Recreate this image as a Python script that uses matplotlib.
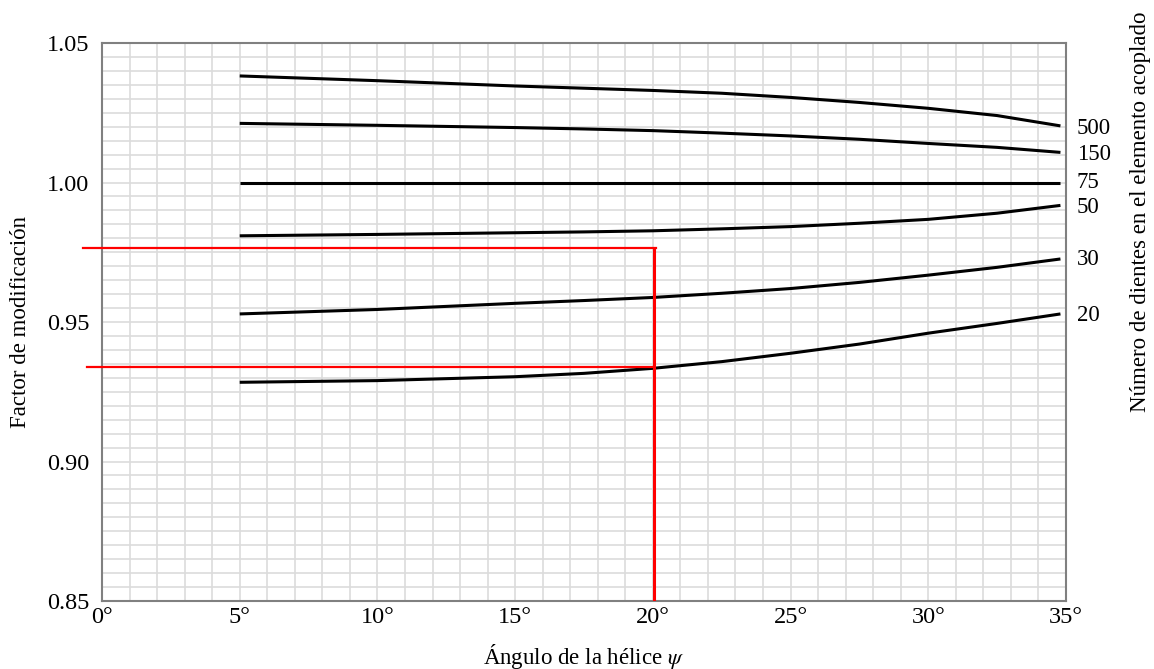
import matplotlib.pyplot as plt
import numpy as np

plt.rcParams['font.family'] = ['Liberation Serif', 'DejaVu Serif']
plt.rcParams['mathtext.fontset'] = 'stix'

# angulo de la helice (grados)
angulos = [5, 10, 15, 17.5, 20, 22.5, 25, 27.5, 30, 32.5, 34.8]

# factor de modificacion por numero de dientes
f500 = [1.0382, 1.0365, 1.0346, 1.0338, 1.0330, 1.0320, 1.0305, 1.0287, 1.0266, 1.0240, 1.0203]
f150 = [1.0212, 1.0205, 1.0197, 1.0192, 1.0186, 1.0177, 1.0167, 1.0155, 1.0140, 1.0126, 1.0108]
f75 = [1.0000, 1.0000, 1.0000, 1.0000, 1.0000, 1.0000, 1.0000, 1.0000, 1.0000, 1.0000, 1.0000]
f50 = [0.9809, 0.9814, 0.9820, 0.9823, 0.9827, 0.9834, 0.9842, 0.9854, 0.9868, 0.9890, 0.9918]
f30 = [0.9529, 0.9545, 0.9567, 0.9577, 0.9588, 0.9603, 0.9620, 0.9642, 0.9668, 0.9696, 0.9726]
f20 = [0.9284, 0.9290, 0.9304, 0.9316, 0.9334, 0.9358, 0.9388, 0.9421, 0.9460, 0.9495, 0.9529]

curvas = [f500, f150, f75, f50, f30, f20]
etiquetas = ['500', '150', '75', '50', '30', '20']
# posicion vertical de cada etiqueta a la derecha
y_etiq = [1.0194, 1.0101, 1.0000, 0.9910, 0.9724, 0.9523]

# lectura ejemplo (lineas rojas)
psi_ej = 20.04
y_sup = 0.9765
y_inf = 0.9338

fig = plt.figure(figsize=(11.54, 6.69), dpi=100)
ax = fig.add_axes([0.0884, 0.1016, 0.8353, 0.8341])

for c in curvas:
    ax.plot(angulos, c, color='black', lw=2.2, solid_capstyle='butt', zorder=3)

for t, y in zip(etiquetas, y_etiq):
    ax.text(35.4, y, t, fontsize=16.5, va='center', ha='left')

ax.plot([-0.69, 20.1], [y_sup, y_sup], color='red', lw=1.6, clip_on=False, zorder=4)
ax.plot([-0.54, psi_ej], [y_inf, y_inf], color='red', lw=1.6, clip_on=False, zorder=4)
ax.plot([psi_ej, psi_ej], [0.9757, 0.85], color='red', lw=2.2, zorder=4)

ax.set_xlim(0, 35)
ax.set_ylim(0.85, 1.05)
ax.set_xticks(np.arange(0, 36, 5))
ax.set_xticklabels([f'{v}°' for v in range(0, 36, 5)], fontsize=17.5)
ax.set_yticks([0.85, 0.90, 0.95, 1.00, 1.05])
ax.set_yticklabels(['0.85', '0.90', '0.95', '1.00', '1.05'], fontsize=17.5)
ax.set_xticks(np.arange(0, 36, 1), minor=True)
ax.set_yticks(np.arange(0.85, 1.0501, 0.005), minor=True)
ax.grid(which='both', color='#dcdcdc', lw=1.2)
ax.set_axisbelow(True)
ax.tick_params(which='both', length=0)
ax.tick_params(axis='x', pad=4)
ax.tick_params(axis='y', pad=9)
for s in ax.spines.values():
    s.set_color('#808080')
    s.set_linewidth(1.5)

ax.set_xlabel('Ángulo de la hélice $\\psi$', fontsize=16.5, va='center')
ax.xaxis.set_label_coords(0.5, -0.100)
ax.set_ylabel('Factor de modificación', fontsize=16.5, va='center')
ax.yaxis.set_label_coords(-0.085, 0.5)
fig.text(0.988, 0.683, 'Número de dientes en el elemento acoplado', rotation=90,
         fontsize=16.5, ha='center', va='center')

fig.savefig('out.png', dpi=100)
